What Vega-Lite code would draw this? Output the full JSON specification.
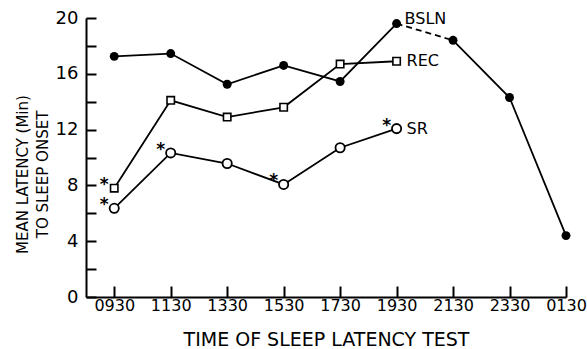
{
  "$schema": "https://vega.github.io/schema/vega-lite/v6.json",
  "width": 480,
  "height": 279,
  "autosize": {"type": "none"},
  "padding": {"left": 86, "top": 18, "right": 21, "bottom": 52},
  "background": "white",
  "config": {
    "view": {"stroke": null},
    "font": "DejaVu Sans"
  },
  "data": {"values": [
    {"s": "BSLN", "time": "0930", "v": 17.25, "star": ""},
    {"s": "BSLN", "time": "1130", "v": 17.45, "star": ""},
    {"s": "BSLN", "time": "1330", "v": 15.25, "star": ""},
    {"s": "BSLN", "time": "1530", "v": 16.6, "star": ""},
    {"s": "BSLN", "time": "1730", "v": 15.45, "star": ""},
    {"s": "BSLN", "time": "1930", "v": 19.6, "star": ""},
    {"s": "BSLN", "time": "2130", "v": 18.4, "star": ""},
    {"s": "BSLN", "time": "2330", "v": 14.3, "star": ""},
    {"s": "BSLN", "time": "0130", "v": 4.4, "star": ""},
    {"s": "REC", "time": "0930", "v": 7.8, "star": "*"},
    {"s": "REC", "time": "1130", "v": 14.1, "star": ""},
    {"s": "REC", "time": "1330", "v": 12.9, "star": ""},
    {"s": "REC", "time": "1530", "v": 13.6, "star": ""},
    {"s": "REC", "time": "1730", "v": 16.7, "star": ""},
    {"s": "REC", "time": "1930", "v": 16.9, "star": ""},
    {"s": "SR", "time": "0930", "v": 6.36, "star": "*"},
    {"s": "SR", "time": "1130", "v": 10.33, "star": "*"},
    {"s": "SR", "time": "1330", "v": 9.57, "star": ""},
    {"s": "SR", "time": "1530", "v": 8.07, "star": "*"},
    {"s": "SR", "time": "1730", "v": 10.7, "star": ""},
    {"s": "SR", "time": "1930", "v": 12.07, "star": "*"}
  ]},
  "encoding": {
    "x": {
      "field": "time", "type": "ordinal",
      "scale": {"type": "point", "domain": ["0930","1130","1330","1530","1730","1930","2130","2330","0130"], "padding": 0.25, "align": 1},
      "axis": {
        "title": "TIME OF SLEEP LATENCY TEST", "labelAngle": 0,
        "domainColor": "black", "domainWidth": 2, "labelColor": "black", "titleColor": "black",
        "labelFont": "DejaVu Sans", "titleFont": "DejaVu Sans", "titleFontWeight": "normal",
        "tickSize": -11, "tickColor": "black", "tickWidth": 2,
        "labelPadding": 11, "labelFontSize": 16, "titleFontSize": 19, "titlePadding": 17
      }
    },
    "y": {
      "field": "v", "type": "quantitative",
      "scale": {"domain": [0, 20], "nice": false, "zero": true},
      "axis": {
        "title": ["MEAN LATENCY (Min)", "TO SLEEP ONSET"],
        "values": [0,2,4,6,8,10,12,14,16,18,20],
        "labelExpr": "datum.value % 4 == 0 ? datum.label : ''",
        "domainColor": "black", "domainWidth": 2, "labelColor": "black", "titleColor": "black",
        "labelFont": "DejaVu Sans", "titleFont": "DejaVu Sans", "titleFontWeight": "normal",
        "gridOpacity": 0,
        "tickSize": -10, "tickColor": "black", "tickWidth": 2,
        "labelPadding": 18, "labelFontSize": 18,
        "titleFontSize": 15, "titleLineHeight": 20,
        "titleX": -64, "titleY": 156, "titleBaseline": "middle", "titleAlign": "center"
      }
    }
  },
  "layer": [
    {"transform": [{"filter": "datum.s != 'BSLN'"}],
     "mark": {"type": "line", "color": "black", "strokeWidth": 1.8},
     "encoding": {"detail": {"field": "s"}}},
    {"transform": [{"filter": "datum.s == 'BSLN'"}, {"filter": {"field": "time", "oneOf": ["0930","1130","1330","1530","1730","1930"]}}],
     "mark": {"type": "line", "color": "black", "strokeWidth": 1.8},
     "encoding": {}},
    {"transform": [{"filter": "datum.s == 'BSLN'"}, {"filter": {"field": "time", "oneOf": ["1930","2130"]}}],
     "mark": {"type": "line", "color": "black", "strokeWidth": 1.8, "strokeDash": [6, 4]},
     "encoding": {}},
    {"transform": [{"filter": "datum.s == 'BSLN'"}, {"filter": {"field": "time", "oneOf": ["2130","2330","0130"]}}],
     "mark": {"type": "line", "color": "black", "strokeWidth": 1.8},
     "encoding": {}},
    {"transform": [{"filter": "datum.s == 'BSLN'"}],
     "mark": {"type": "point", "shape": "circle", "filled": true, "color": "black", "size": 80, "opacity": 1}},
    {"transform": [{"filter": "datum.s == 'SR'"}],
     "mark": {"type": "point", "shape": "circle", "filled": false, "fill": "white", "fillOpacity": 1, "stroke": "black", "strokeWidth": 1.8, "size": 85, "opacity": 1}},
    {"transform": [{"filter": "datum.s == 'REC'"}],
     "mark": {"type": "point", "shape": "square", "filled": false, "fill": "white", "fillOpacity": 1, "stroke": "black", "strokeWidth": 1.6, "size": 55, "opacity": 1}},
    {"transform": [{"filter": "datum.star == '*'"}],
     "mark": {"type": "text", "text": "*", "fontSize": 17, "fontWeight": "bold", "color": "black", "dx": -10, "dy": -3, "baseline": "middle", "align": "center"}},
    {"transform": [{"filter": "datum.time == '1930' && datum.s == 'BSLN'"}],
     "mark": {"type": "text", "fontSize": 16, "color": "black", "align": "left", "baseline": "middle", "dx": 8, "dy": -5},
     "encoding": {"text": {"field": "s"}}},
    {"transform": [{"filter": "datum.time == '1930' && datum.s != 'BSLN'"}],
     "mark": {"type": "text", "fontSize": 16, "color": "black", "align": "left", "baseline": "middle", "dx": 10, "dy": 0},
     "encoding": {"text": {"field": "s"}}}
  ]
}
